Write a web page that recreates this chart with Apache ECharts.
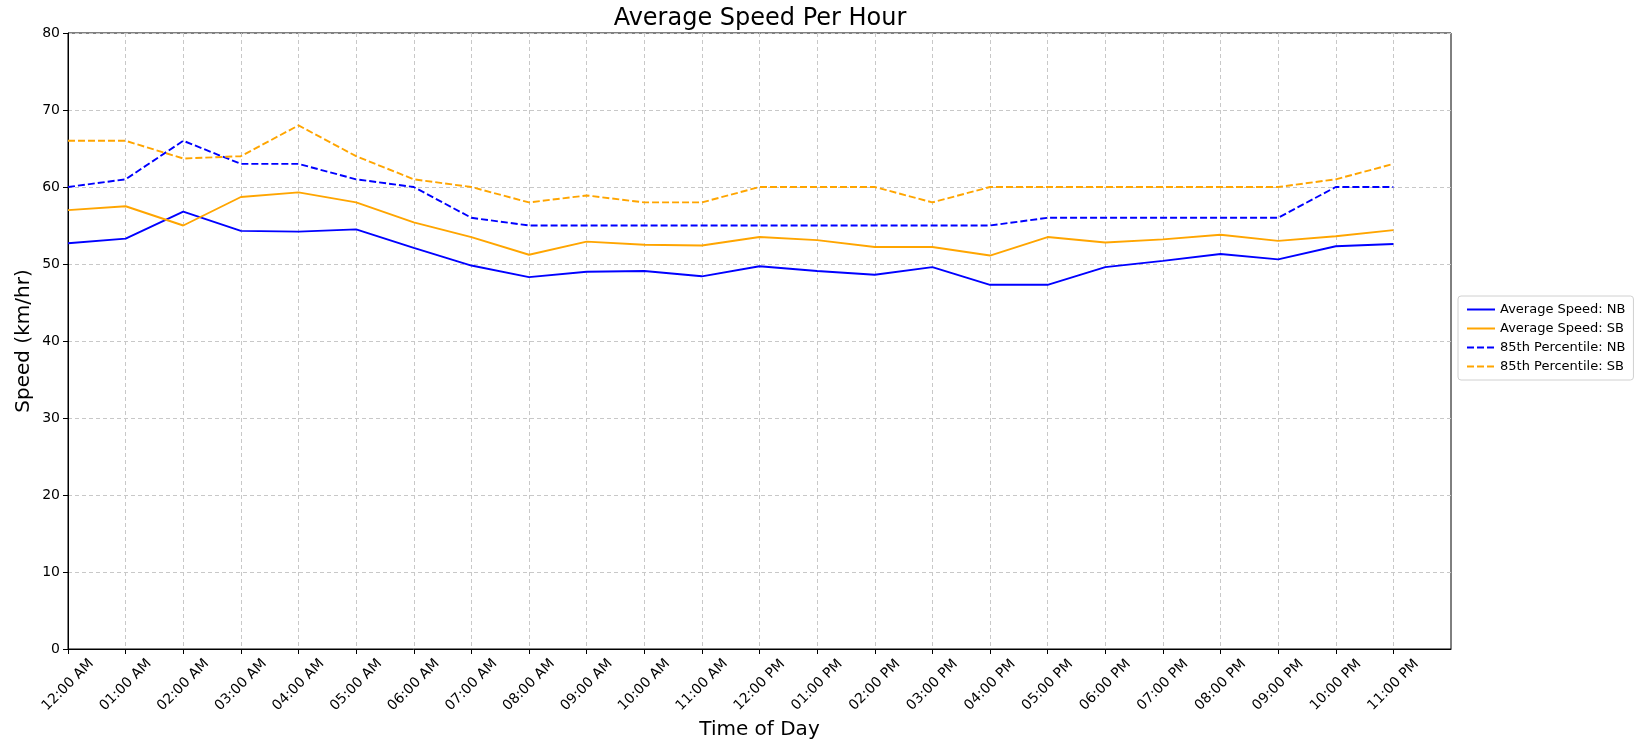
<!DOCTYPE html>
<html>
<head>
<meta charset="utf-8">
<title>Average Speed Per Hour</title>
<script src="https://cdn.jsdelivr.net/npm/echarts@6/dist/echarts.min.js"></script>
<style>
  html, body { margin: 0; padding: 0; background: #fff; }
  #chart { width: 1640px; height: 739px; }
</style>
</head>
<body>
<div id="chart"></div>
<script>
// hour labels on the x axis
const hours = [
  '12:00 AM', '01:00 AM', '02:00 AM', '03:00 AM', '04:00 AM', '05:00 AM',
  '06:00 AM', '07:00 AM', '08:00 AM', '09:00 AM', '10:00 AM', '11:00 AM',
  '12:00 PM', '01:00 PM', '02:00 PM', '03:00 PM', '04:00 PM', '05:00 PM',
  '06:00 PM', '07:00 PM', '08:00 PM', '09:00 PM', '10:00 PM', '11:00 PM'
]

// speeds in km/hr
const avgNB = [52.7, 53.3, 56.8, 54.3, 54.2, 54.5, 52.1, 49.8, 48.3, 49.0, 49.1, 48.4,
               49.7, 49.1, 48.6, 49.6, 47.3, 47.3, 49.6, 50.4, 51.3, 50.6, 52.3, 52.6]
const avgSB = [57.0, 57.5, 55.0, 58.7, 59.3, 58.0, 55.4, 53.5, 51.2, 52.9, 52.5, 52.4,
               53.5, 53.1, 52.2, 52.2, 51.1, 53.5, 52.8, 53.2, 53.8, 53.0, 53.6, 54.4]
const p85NB = [60, 61, 66, 63, 63, 61, 60, 56, 55, 55, 55, 55,
               55, 55, 55, 55, 55, 56, 56, 56, 56, 56, 60, 60]
const p85SB = [66, 66, 63.7, 64, 68, 64, 61, 60, 58, 58.9, 58, 58,
               60, 60, 60, 58, 60, 60, 60, 60, 60, 60, 61, 63]

const yTicks = [0, 10, 20, 30, 40, 50, 60, 70, 80]

const FONT = 'DejaVu Sans'
const hourIdx = hours.map((_, i) => i)

function toPoints(values) {
  return values.map((v, i) => [i, v])
}

function makeLine(name, values, color, dashed) {
  return {
    name: name,
    type: 'line',
    data: toPoints(values),
    symbol: 'none',
    lineStyle: { color: color, width: 1.9, type: dashed ? [7, 3] : 'solid' },
    itemStyle: { color: color },
    z: 3
  }
}

const chart = echarts.init(document.getElementById('chart'))

chart.setOption({
  animation: false,
  textStyle: { fontFamily: FONT, color: '#000' },
  title: {
    text: 'Average Speed Per Hour',
    left: 755,
    textAlign: 'center',
    top: 2,
    textStyle: { fontFamily: FONT, fontSize: 24, fontWeight: 'normal', color: '#000' }
  },
  grid: {
    left: 68,
    top: 33,
    right: 189,
    bottom: 90,
    outerBoundsMode: 'none',
    containLabel: false,
    show: true,
    borderColor: '#000',
    borderWidth: 1,
    backgroundColor: 'transparent'
  },
  legend: {
    orient: 'vertical',
    left: 1458,
    top: 296,
    padding: [7, 8, 7, 8],
    itemGap: 6,
    itemWidth: 28,
    itemHeight: 12,
    borderColor: '#d0d0d0',
    borderWidth: 1,
    borderRadius: 3,
    itemStyle: { opacity: 0 },
    textStyle: { fontFamily: FONT, fontSize: 13, color: '#000' },
    data: ['Average Speed: NB', 'Average Speed: SB', '85th Percentile: NB', '85th Percentile: SB']
  },
  xAxis: {
    type: 'value',
    min: 0,
    max: 24,
    interval: 1,
    name: 'Time of Day',
    nameLocation: 'middle',
    nameGap: 81,
    nameMoveOverlap: false,
    nameTextStyle: { fontFamily: FONT, fontSize: 20, color: '#000', verticalAlign: 'middle' },
    axisLine: { show: true, lineStyle: { color: '#000', width: 1 } },
    axisTick: { show: true, length: 5, lineStyle: { color: '#000' }, customValues: hourIdx },
    axisLabel: {
      rotate: 45,
      align: 'center',
      verticalAlign: 'middle',
      fontFamily: FONT,
      fontSize: 14,
      color: '#000',
      margin: 36,
      customValues: hourIdx,
      formatter: v => hours[v] || ''
    },
    splitLine: { show: true, lineStyle: { color: '#c8c8c8', type: [4, 3], width: 1 } }
  },
  yAxis: {
    type: 'value',
    min: 0,
    max: 80,
    interval: 10,
    name: 'Speed (km/hr)',
    nameLocation: 'middle',
    nameGap: 44,
    nameMoveOverlap: false,
    nameTextStyle: { fontFamily: FONT, fontSize: 20, color: '#000', verticalAlign: 'middle' },
    axisLine: { show: true, lineStyle: { color: '#000', width: 1 } },
    axisTick: { show: true, length: 5, inside: false, lineStyle: { color: '#000' } },
    axisLabel: {
      fontFamily: FONT,
      fontSize: 14,
      color: '#000',
      margin: 8,
      formatter: v => (yTicks.includes(v) ? String(v) : '')
    },
    splitLine: { show: true, lineStyle: { color: '#c8c8c8', type: [4, 3], width: 1 } }
  },
  series: [
    makeLine('Average Speed: NB', avgNB, '#0000ff', false),
    makeLine('Average Speed: SB', avgSB, '#ffa500', false),
    makeLine('85th Percentile: NB', p85NB, '#0000ff', true),
    makeLine('85th Percentile: SB', p85SB, '#ffa500', true)
  ]
})
</script>
</body>
</html>
